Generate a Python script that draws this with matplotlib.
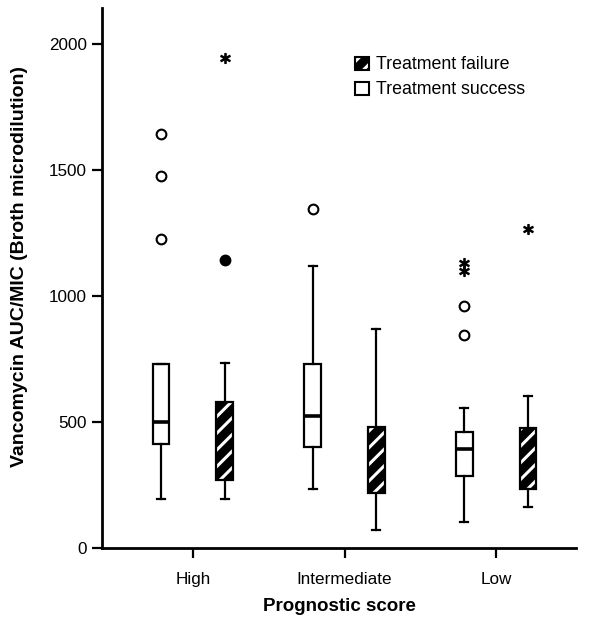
import matplotlib
matplotlib.use('Agg')
import matplotlib.pyplot as plt
from matplotlib.patches import Patch, PathPatch

plt.rcParams['font.family'] = ['Liberation Sans', 'DejaVu Sans']
plt.rcParams['hatch.linewidth'] = 2.2
plt.rcParams['hatch.color'] = 'white'

# Данные
groups = ['High', 'Intermediate', 'Low']

# успех лечения: whislo, q1, med, q3, whishi
succ_lo = [195, 235, 105]
succ_q1 = [415, 400, 285]
succ_med = [500, 525, 395]
succ_q3 = [730, 730, 460]
succ_hi = [730, 1120, 555]

# неудача лечения
fail_lo = [195, 70, 165]
fail_q1 = [270, 220, 235]
fail_med = [300, 320, 320]
fail_q3 = [580, 480, 475]
fail_hi = [735, 870, 605]

# выбросы
succ_circles = [[1645, 1475, 1225], [1345], [960, 845]]
succ_stars = [[], [], [1130, 1100]]
fail_filled = [[1145], [], []]
fail_stars = [[1945], [], [1265]]

pos = [1, 2, 3]
off = 0.21
w = 0.11

fig = plt.figure(figsize=(5.93, 6.2), dpi=100)
ax = fig.add_axes([0.172, 0.116, 0.80, 0.871])

def stats(lo, q1, med, q3, hi):
    return [dict(whislo=a, q1=b, med=c, q3=d, whishi=e, fliers=[])
            for a, b, c, d, e in zip(lo, q1, med, q3, hi)]

lw = 1.6
ax.bxp(stats(succ_lo, succ_q1, succ_med, succ_q3, succ_hi),
       positions=[p - off for p in pos], widths=w, patch_artist=True,
       showfliers=False,
       boxprops=dict(facecolor='white', edgecolor='black', linewidth=lw),
       medianprops=dict(color='black', linewidth=2.6),
       whiskerprops=dict(color='black', linewidth=lw),
       capprops=dict(color='black', linewidth=lw))

res = ax.bxp(stats(fail_lo, fail_q1, fail_med, fail_q3, fail_hi),
             positions=[p + off for p in pos], widths=w, patch_artist=True,
             showfliers=False,
             boxprops=dict(facecolor='black', edgecolor='white', hatch='//',
                           linewidth=0),
             medianprops=dict(color='black', linewidth=0),
             whiskerprops=dict(color='black', linewidth=lw),
             capprops=dict(color='black', linewidth=lw))
for b in res['boxes']:
    ax.add_patch(PathPatch(b.get_path(), fc='none', ec='black', lw=lw, zorder=3))

# выбросы
for i, p in enumerate(pos):
    for v in succ_circles[i]:
        ax.plot(p - off, v, 'o', mfc='white', mec='black', mew=1.5, ms=7)
    for v in succ_stars[i]:
        ax.plot(p - off, v, marker='$*$', color='black', ms=7)
    for v in fail_filled[i]:
        ax.plot(p + off, v, 'o', color='black', ms=7.5)
    for v in fail_stars[i]:
        ax.plot(p + off, v, marker='$*$', color='black', ms=7)

ax.set_xlim(0.40, 3.53)
ax.set_ylim(0, 2143)
ax.set_yticks([0, 500, 1000, 1500, 2000])
ax.set_xticks(pos)
ax.set_xticklabels(groups)
ax.tick_params(axis='both', labelsize=12.3, width=1.6, length=7, direction='out')
ax.tick_params(axis='x', pad=10)
ax.tick_params(axis='y', pad=4)
for s in ['top', 'right']:
    ax.spines[s].set_visible(False)
for s in ['left', 'bottom']:
    ax.spines[s].set_linewidth(2)

ax.set_ylabel('Vancomycin AUC/MIC (Broth microdilution)', fontsize=14,
              fontweight='bold')
ax.yaxis.set_label_coords(-0.156, 0.522)
ax.set_xlabel('Prognostic score', fontsize=13.5, fontweight='bold', labelpad=8)

hatched = (Patch(facecolor='black', edgecolor='white', hatch='//', lw=0),
           Patch(facecolor='none', edgecolor='black', lw=1.5))
empty = Patch(facecolor='white', edgecolor='black', lw=1.5)
leg = ax.legend([hatched, empty], ['Treatment failure', 'Treatment success'],
                loc='upper left', bbox_to_anchor=(0.5, 0.94), frameon=False,
                fontsize=12.8, handlelength=0.75, handleheight=0.75,
                handletextpad=0.4, labelspacing=0.45)

fig.savefig('out.png', dpi=100)
